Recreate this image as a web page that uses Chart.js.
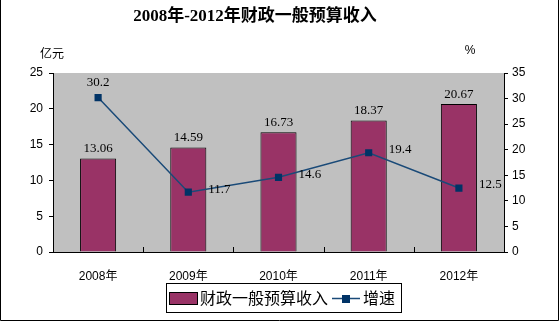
<!DOCTYPE html>
<html>
<head>
<meta charset="utf-8">
<script src="https://cdn.jsdelivr.net/npm/chart.js@4.4.1/dist/chart.umd.min.js"></script>
<style>
  html, body { margin: 0; padding: 0; background: #fff; }
  #wrap { width: 560px; height: 322px; }
</style>
</head>
<body>
<div id="wrap"><canvas id="myChart" width="560" height="322"></canvas></div>
<script>
// data
const years = ['2008年', '2009年', '2010年', '2011年', '2012年'];
const revenue = [13.06, 14.59, 16.73, 18.37, 20.67];   // 亿元
const growth = [30.2, 11.7, 14.6, 19.4, 12.5];         // %
const leftTicks = [0, 5, 10, 15, 20, 25];
const rightTicks = [0, 5, 10, 15, 20, 25, 30, 35];

const barColor = '#993366';
const lineColor = '#1a4a78';
const markColor = '#003366';
const tickFont = { family: '"Liberation Sans", "Noto Sans CJK SC", sans-serif', size: 12 };
const cjk = '"Noto Sans CJK SC", sans-serif';

// frame, plot background, titles, inside ticks and the legend box
const decor = {
  id: 'decor',
  beforeDraw(chart) {
    const {ctx, chartArea: a} = chart;
    ctx.save();
    ctx.fillStyle = '#c0c0c0';
    ctx.fillRect(a.left, a.top, a.right - a.left, a.bottom - a.top);
    ctx.restore();
  },
  afterDraw(chart) {
    const {ctx, chartArea: a} = chart;
    const x = chart.scales.x;
    ctx.save();
    // outer frame
    ctx.strokeStyle = '#000';
    ctx.lineWidth = 1;
    ctx.beginPath();
    ctx.moveTo(0.5, 0); ctx.lineTo(0.5, 320.5); ctx.lineTo(558.5, 320.5); ctx.lineTo(558.5, 0);
    ctx.stroke();

    // small ticks between the categories, pointing up
    const half = (x.getPixelForValue(1) - x.getPixelForValue(0)) / 2;
    ctx.beginPath();
    for (let i = 0; i < years.length - 1; i++) {
      const px = Math.round(x.getPixelForValue(i) + half) + 0.5;
      ctx.moveTo(px, a.bottom); ctx.lineTo(px, a.bottom - 5);
    }
    ctx.stroke();

    // title
    ctx.fillStyle = '#000';
    ctx.textAlign = 'center';
    ctx.textBaseline = 'middle';
    ctx.font = 'bold 17px "Liberation Serif", "Noto Sans CJK SC", serif';
    ctx.fillText('2008年-2012年财政一般预算收入', 255, 17);

    // axis units
    ctx.font = '12px ' + cjk;
    ctx.fillText('亿元', 52, 53);
    ctx.font = '12px "Liberation Sans", sans-serif';
    ctx.fillText('%', 470, 51);

    // legend
    const lx = 166, ly = 283, lw = 235, lh = 29;
    ctx.strokeRect(lx + 0.5, ly + 0.5, lw, lh);
    const ds = chart.data.datasets;
    ctx.fillStyle = ds[0].backgroundColor;
    ctx.fillRect(169.5, 292.5, 28, 12);
    ctx.strokeRect(169.5, 292.5, 28, 12);
    ctx.fillStyle = '#000';
    ctx.textAlign = 'left';
    ctx.font = '16px ' + cjk;
    ctx.fillText(ds[0].label, 200, 298);
    ctx.strokeStyle = ds[1].borderColor;
    ctx.lineWidth = 1.5;
    ctx.beginPath();
    ctx.moveTo(332, 298.5); ctx.lineTo(360, 298.5);
    ctx.stroke();
    ctx.fillStyle = ds[1].pointBackgroundColor;
    ctx.fillRect(342, 295, 8, 8);
    ctx.fillStyle = '#000';
    ctx.fillText(ds[1].label, 363, 298);
    ctx.restore();
  }
};

// value labels on bars and line points
const valueLabels = {
  id: 'valueLabels',
  afterDatasetsDraw(chart) {
    const {ctx} = chart;
    ctx.save();
    ctx.fillStyle = '#000';
    ctx.font = '13px "Liberation Serif", serif';
    ctx.textBaseline = 'bottom';
    chart.getDatasetMeta(0).data.forEach((bar, i) => {
      ctx.textAlign = 'center';
      ctx.fillText(revenue[i].toFixed(2), bar.x, bar.y - 3);
    });
    ctx.textBaseline = 'middle';
    chart.getDatasetMeta(1).data.forEach((pt, i) => {
      const txt = growth[i].toFixed(1);
      if (i === 0) {
        ctx.textAlign = 'center';
        ctx.fillText(txt, pt.x, pt.y - 15);
      } else {
        ctx.textAlign = 'left';
        ctx.fillText(txt, pt.x + 20, pt.y - 3);
      }
    });
    ctx.restore();
  }
};

const ctx = document.getElementById('myChart').getContext('2d');
const myChart = new Chart(ctx, {
  data: {
    labels: years,
    datasets: [{
      type: 'bar',
      label: '财政一般预算收入',
      data: revenue,
      yAxisID: 'y',
      backgroundColor: barColor,
      borderColor: '#000',
      borderWidth: 1,
      barPercentage: 0.8,
      categoryPercentage: 0.5,
      order: 2
    }, {
      type: 'line',
      label: '增速',
      data: growth,
      yAxisID: 'y1',
      borderColor: lineColor,
      borderWidth: 1.5,
      pointStyle: 'rect',
      pointRadius: 4,
      pointBackgroundColor: markColor,
      pointBorderColor: markColor,
      tension: 0,
      order: 1
    }]
  },
  options: {
    responsive: false,
    animation: false,
    events: [],
    layout: { padding: { top: 73, left: 0, right: 0, bottom: 0 } },
    scales: {
      x: {
        offset: true,
        grid: { display: false },
        border: { color: '#000' },
        ticks: { color: '#000', font: tickFont, padding: 9 },
        afterFit(s) { s.height = 70; }
      },
      y: {
        position: 'left',
        min: 0, max: 25,
        afterBuildTicks(s) { s.ticks = leftTicks.map(v => ({value: v})); },
        grid: { drawOnChartArea: false, tickLength: 4, color: '#000' },
        border: { color: '#000' },
        ticks: { color: '#000', font: tickFont, padding: 6 },
        afterFit(s) { s.width = 53; }
      },
      y1: {
        position: 'right',
        min: 0, max: 35,
        afterBuildTicks(s) { s.ticks = rightTicks.map(v => ({value: v})); },
        grid: { drawOnChartArea: false, tickLength: 4, color: '#000' },
        border: { color: '#000' },
        ticks: { color: '#000', font: tickFont, padding: 4 },
        afterFit(s) { s.width = 56; }
      }
    },
    plugins: {
      legend: { display: false },
      title: { display: false },
      tooltip: { enabled: false }
    }
  },
  plugins: [decor, valueLabels]
});
</script>
</body>
</html>
